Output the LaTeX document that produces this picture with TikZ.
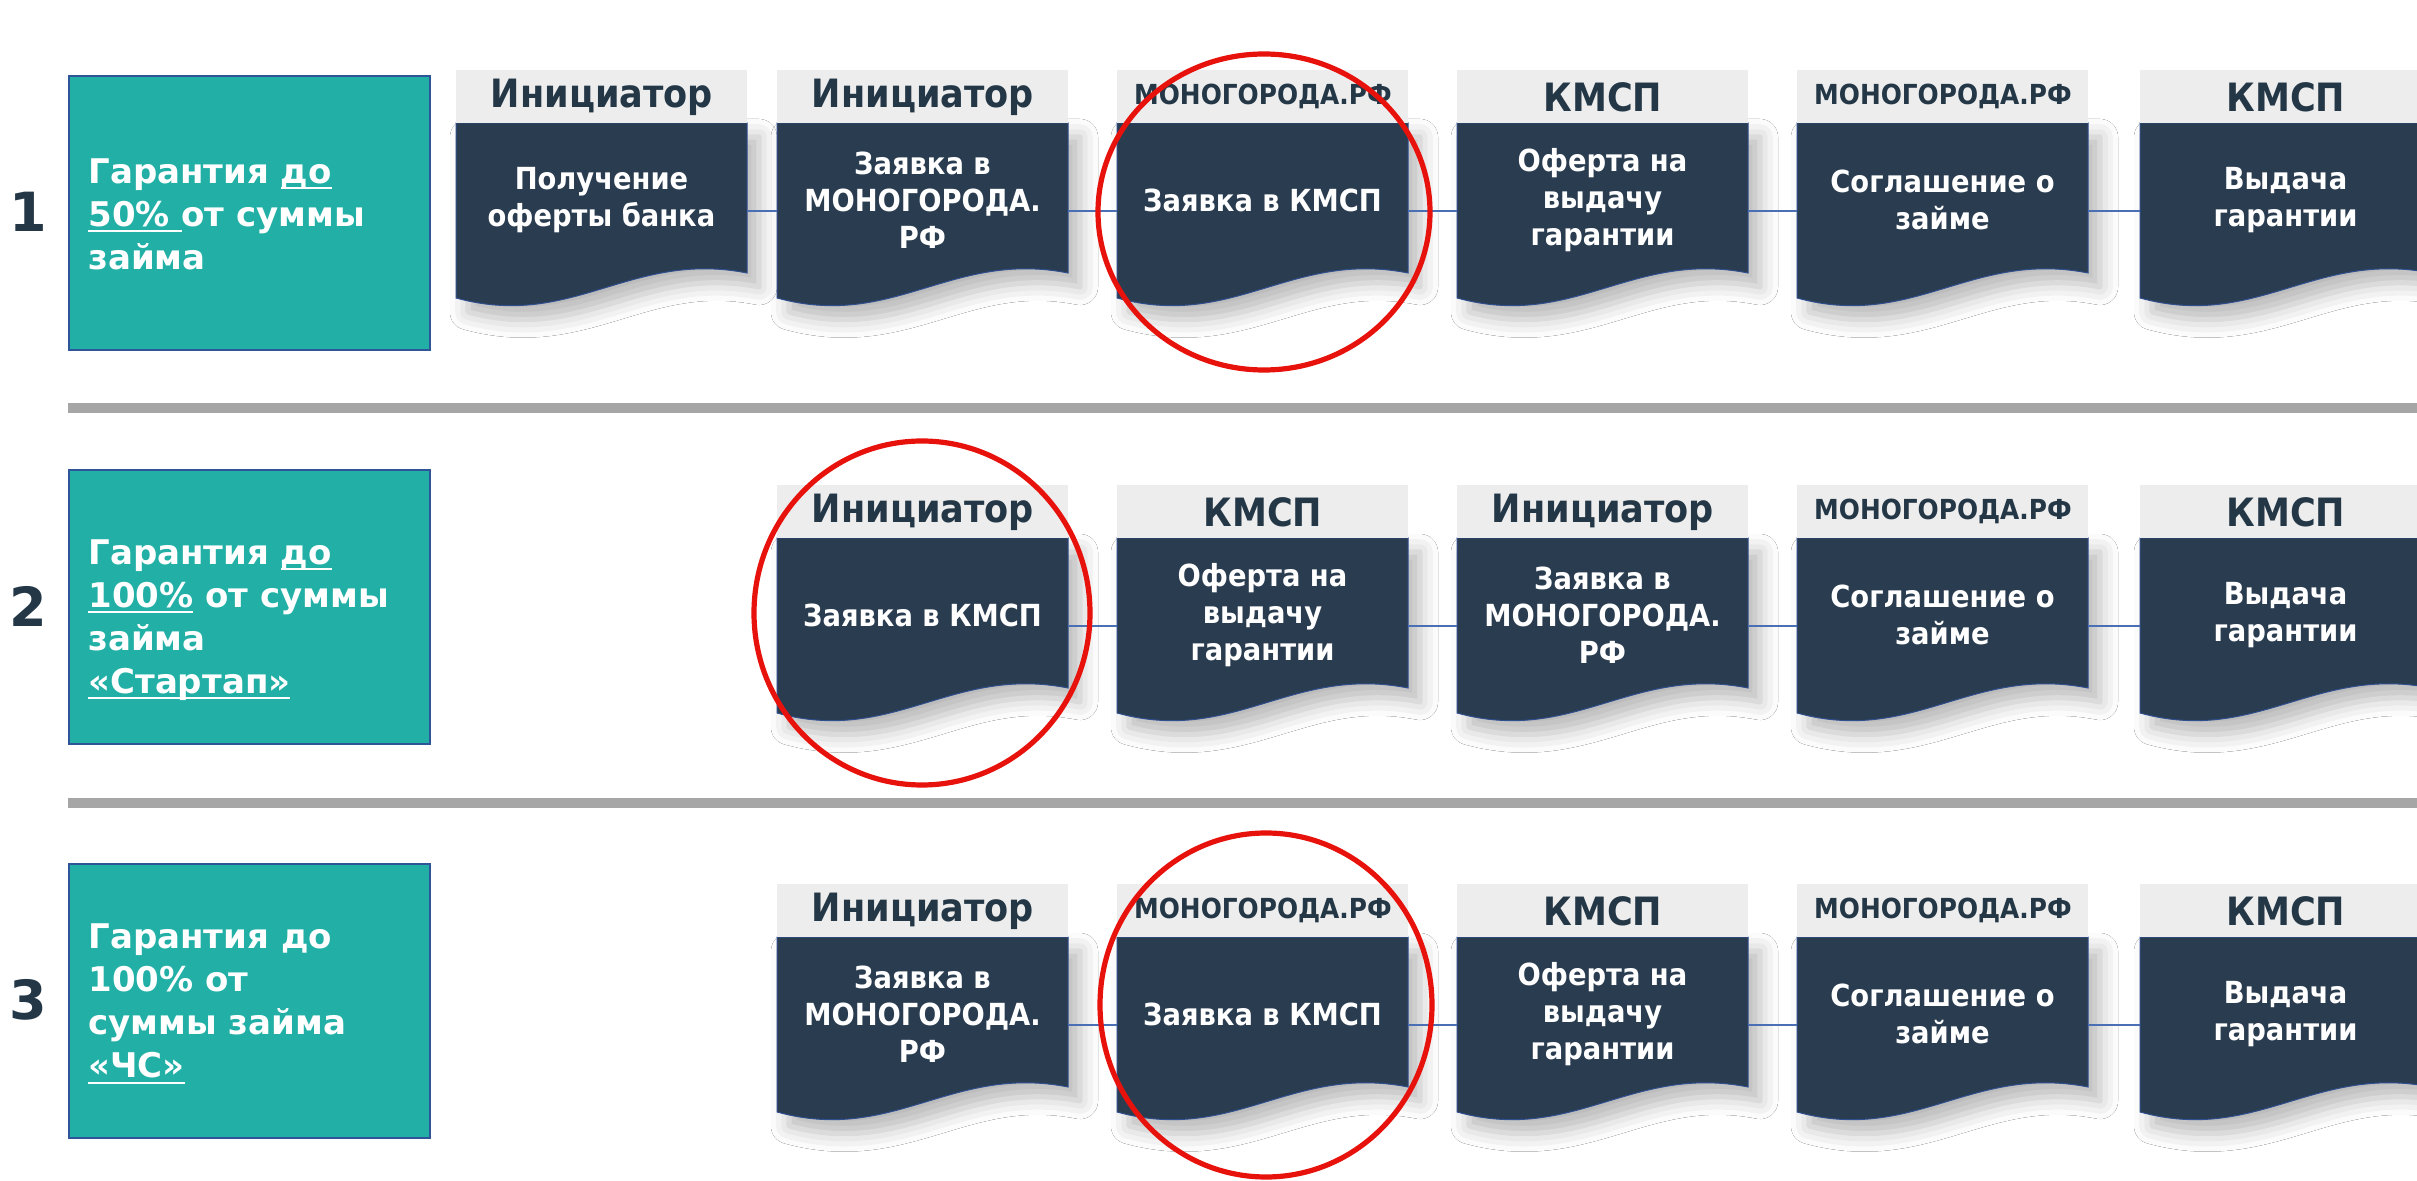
\documentclass[tikz,border=0pt]{standalone}
\usepackage{fontspec}
\setmainfont{DejaVu Sans}
\newfontfamily\condfont{DejaVu Sans Condensed}
\usetikzlibrary{shadows.blur}
\definecolor{tealfill}{HTML}{22B0A6}
\definecolor{tealedge}{HTML}{2E5597}
\definecolor{slate}{HTML}{243746}
\definecolor{bodyfill}{HTML}{2A3C50}
\definecolor{bodyedge}{HTML}{2F4F8F}
\definecolor{hdrgray}{HTML}{EDEDED}
\definecolor{connblue}{HTML}{4A6FB5}
\definecolor{sepgray}{HTML}{A6A6A6}
\definecolor{ringred}{HTML}{E8120C}
\newcommand\myul[1]{\setbox0=\hbox{#1}\rlap{\rule[-3pt]{\wd0}{1.1pt}}\box0\relax}
\tikzset{
  hdr/.style={fill=hdrgray, minimum width=145.5pt, minimum height=26.5pt, inner sep=0pt,
    anchor=north west, text=slate, font=\condfont\bfseries\fontsize{19.5}{21}\selectfont},
  hdrs/.style={hdr, font=\condfont\bfseries\fontsize{13.8}{15}\selectfont},
  bodytxt/.style={minimum width=145.5pt, inner sep=0pt, align=center, text=white,
    font=\condfont\bfseries\fontsize{15.2}{18.5}\selectfont},
  bodyshape/.style={fill=bodyfill, draw=bodyedge, line width=0.5pt,
    blur shadow={shadow xshift=6pt, shadow yshift=-7pt, shadow blur radius=9pt, shadow opacity=28}},
  tealbox/.style={fill=tealfill, draw=tealedge, line width=1pt, anchor=north west,
    minimum width=180.5pt, minimum height=137pt, inner sep=0pt},
  tealtxt/.style={anchor=west, align=left, text=white, inner sep=0pt,
    font=\bfseries\fontsize{17}{21.5}\selectfont},
  numtxt/.style={text=slate, font=\bfseries\fontsize{27}{30}\selectfont, inner sep=0pt},
  conn/.style={draw=connblue, line width=0.75pt},
  sepline/.style={draw=sepgray, line width=5pt},
  ring/.style={draw=ringred, line width=2.6pt}
}
\newcommand\procbox[6]{%
  \path[bodyshape] (#2,#3) -- (#2+291,#3) -- (#2+291,#3+150)
    .. controls (#2+174.6,#3+127) and (#2+116.4,#3+207) .. (#2,#3+175) -- cycle;
  \node[#4] (h#1) at (#2,#3-53) {#5};
  \node[bodytxt] (#1) at (#2+145.5,#3+77) {#6};
}
\begin{document}
\begin{tikzpicture}[x=0.5pt,y=-0.5pt]
\clip (0,0) rectangle (2417,1181);
\fill[white] (0,0) rectangle (2417,1181);
% separators
\draw[sepline] (68,408) -- (2417,408);
\draw[sepline] (68,803) -- (2417,803);
% row labels
\node[numtxt] (n1) at (28,212) {1};
\node[numtxt] (n2) at (28,606) {2};
\node[numtxt] (n3) at (28,1000) {3};
\node[tealbox] (t1) at (68,75) {};
\node[tealbox] (t2) at (68,469) {};
\node[tealbox] (t3) at (68,863) {};
\node[tealtxt] (tt1) at (88,214) {Гарантия \myul{до}\\\myul{50\% }от суммы\\займа};
\node[tealtxt] (tt2) at (88,620) {Гарантия \myul{до}\\\myul{100\%} от суммы\\займа\\\myul{«Стартап»}};
\node[tealtxt] (tt3) at (88,1004) {Гарантия до\\100\% от\\суммы займа\\\myul{«ЧС»}};
% row 1
\procbox{a1}{456}{123}{hdr}{Инициатор}{Получение\\оферты банка}
\procbox{b1}{777}{123}{hdr}{Инициатор}{Заявка в\\МОНОГОРОДА.\\РФ}
\procbox{c1}{1117}{123}{hdrs}{МОНОГОРОДА.РФ}{Заявка в КМСП}
\procbox{d1}{1457}{123}{hdr}{КМСП}{Оферта на\\выдачу\\гарантии}
\procbox{e1}{1797}{123}{hdrs}{МОНОГОРОДА.РФ}{Соглашение о\\займе}
\procbox{f1}{2140}{123}{hdr}{КМСП}{Выдача\\гарантии}
% row 2
\procbox{b2}{777}{538}{hdr}{Инициатор}{Заявка в КМСП}
\procbox{c2}{1117}{538}{hdr}{КМСП}{Оферта на\\выдачу\\гарантии}
\procbox{d2}{1457}{538}{hdr}{Инициатор}{Заявка в\\МОНОГОРОДА.\\РФ}
\procbox{e2}{1797}{538}{hdrs}{МОНОГОРОДА.РФ}{Соглашение о\\займе}
\procbox{f2}{2140}{538}{hdr}{КМСП}{Выдача\\гарантии}
% row 3
\procbox{b3}{777}{937}{hdr}{Инициатор}{Заявка в\\МОНОГОРОДА.\\РФ}
\procbox{c3}{1117}{937}{hdrs}{МОНОГОРОДА.РФ}{Заявка в КМСП}
\procbox{d3}{1457}{937}{hdr}{КМСП}{Оферта на\\выдачу\\гарантии}
\procbox{e3}{1797}{937}{hdrs}{МОНОГОРОДА.РФ}{Соглашение о\\займе}
\procbox{f3}{2140}{937}{hdr}{КМСП}{Выдача\\гарантии}
% connectors
\foreach \p/\q in {a1/b1,b1/c1,c1/d1,d1/e1,e1/f1,b2/c2,c2/d2,d2/e2,e2/f2,b3/c3,c3/d3,d3/e3,e3/f3}
  \draw[conn] ([yshift=-5.5pt]\p.east) -- ([yshift=-5.5pt]\q.west);
% red rings
\draw[ring] (1264,212) ellipse (166 and 158);
\draw[ring] (922,613) ellipse (168 and 172);
\draw[ring] (1266,1005) ellipse (166 and 172);
\end{tikzpicture}
\end{document}
